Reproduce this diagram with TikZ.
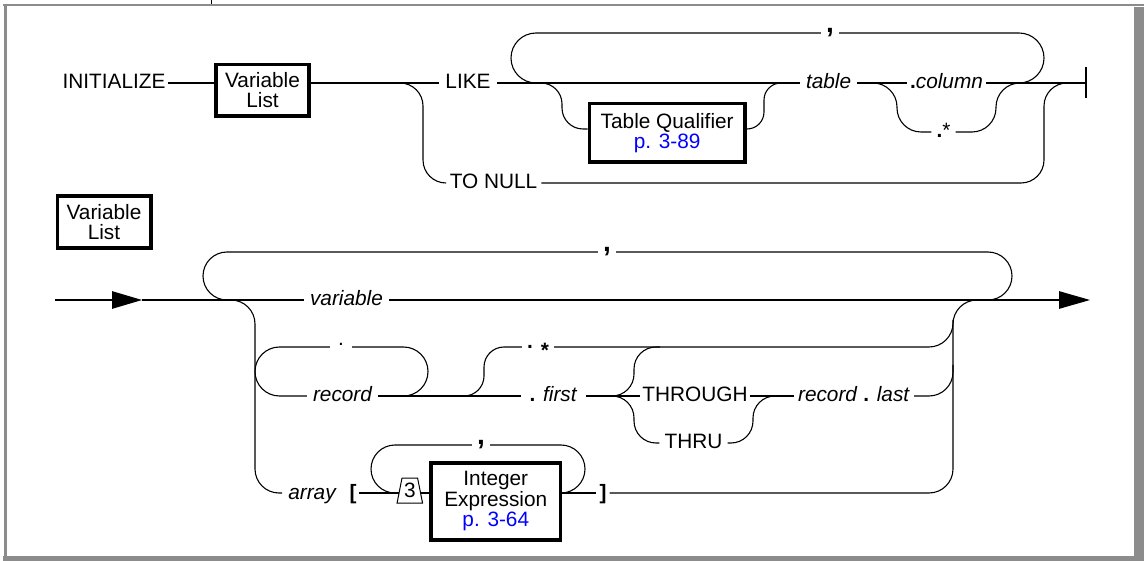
\documentclass[tikz,border=0pt]{standalone}
\usepackage{fontspec}
\setmainfont{Liberation Sans}
\usepackage{tikz}
\usetikzlibrary{arrows.meta,shapes.geometric}
\definecolor{framegray}{gray}{0.55}
\definecolor{linkblue}{RGB}{0,0,255}
\newcommand\rrfont{\fontsize{20.8}{20.5}\selectfont}
\newcommand\sepc{\smash{\fontsize{28}{28}\selectfont\bfseries,}}
\tikzset{
  track/.style={line width=1.1pt, rounded corners=23pt},
  word/.style={font=\rrfont, text height=15pt, text depth=3pt, inner xsep=6pt, inner ysep=1pt},
  varword/.style={word, font=\rrfont\itshape},
  refbox/.style={draw, line width=3.6pt, font=\rrfont, align=center, inner sep=0pt},
  sepnode/.style={inner xsep=5pt, inner ysep=2pt}
}
\begin{document}
\begin{tikzpicture}[x=1pt,y=-1pt]
\useasboundingbox (0,0) rectangle (1144,561);
% frame
\fill[framegray] (3,4) rectangle (1144,6.5);
\fill[framegray] (3.5,4) rectangle (6.5,561);
\fill[framegray] (1134,7) rectangle (1144,561);
\fill[framegray] (3,556) rectangle (1144,561);
\draw[line width=1pt] (211,0) -- (211,4);
% INITIALIZE statement
\node[word, inner xsep=2pt] (init) at (114,83) {INITIALIZE};
\node[refbox, minimum width=93.4pt, minimum height=51.7pt] (vlA) at (262.5,90.3) {Variable\\List};
\node[word] (like) at (468,83) {LIKE};
\node[word, inner xsep=4pt] (tonull) at (493.5,183) {TO NULL};
\node[refbox, minimum width=155.4pt, minimum height=58.7pt] (tq) at (667.2,132.9) {Table Qualifier\\\textcolor{linkblue}{p. 3-89}};
\node[varword] (tbl) at (828.6,83) {table};
\node[word, inner xsep=3pt] (col) at (946.5,83) {\textbf{.}\textit{column}};
\node[word, inner xsep=5pt] (dst) at (943.5,132) {\textbf{.}*};
\node[sepnode] (cmA) at (830,33) {\sepc};
\coordinate (jA) at (400,83);
\coordinate (tqrow) at (0,129);
\coordinate (endbar) at (1086,83);
\draw[track] (init) -- (vlA.west |- init);
\draw[track] (vlA.east |- like) -- (like);
\draw[track] (jA) -- (423,83) -- (423,183) -- (tonull);
\draw[track] (tonull) -- (1044,183) -- (1044,83) -- (endbar);
\draw[track] (like) -- (tbl);
\draw[track, rounded corners=25pt] (538,83) -- (511,83) -- (511,33) -- (cmA);
\draw[track, rounded corners=25pt] (cmA) -- (1044,33) -- (1044,83) -- (1010,83);
\draw[track, rounded corners=21pt] (538,83) -- (562,83) -- (562,129) -- (tq.west |- tqrow);
\draw[track, rounded corners=17pt] (tq.east |- tqrow) -- (764,129) -- (764,83) -- (790,83);
\draw[track] (tbl) -- (col);
\draw[track] (col) -- (endbar);
\draw[track, rounded corners=24pt] (870,83) -- (897,83) -- (897,132) -- (dst);
\draw[track, rounded corners=24pt] (dst) -- (996,132) -- (996,83) -- (1025,83);
\draw[line width=1.1pt] (1086,67) -- (1086,98);
% Variable List
\node[refbox, minimum width=93.4pt, minimum height=52.4pt] (vlB) at (104,222) {Variable\\List};
\coordinate (in) at (55,300);
\coordinate (tipA) at (142,300);
\coordinate (out) at (1090,300);
\node[varword] (var) at (346.5,300) {variable};
\node[sepnode] (cmB) at (607,252) {\sepc};
\node[varword] (rec) at (342.5,396) {record};
\node[font=\rrfont, inner xsep=8pt, inner ysep=2pt] (rdot) at (341,347) {\smash{\raisebox{1pt}{.}}};
\node[word, inner xsep=8pt] (fst) at (553.5,396) {\textbf{.} \textit{first}};
\node[word, inner xsep=5pt] (dsB) at (538,347) {\raisebox{4.5pt}{\textbf{.}}\hspace{8pt}\raisebox{-4.5pt}{\textbf{*}}};
\node[word, inner xsep=2pt] (thr) at (695,396) {THROUGH};
\node[word, inner xsep=5pt] (thru) at (693.5,443) {THRU};
\node[word, inner xsep=4pt] (rl) at (854,396) {\textit{record} \textbf{.} \textit{last}};
\node[varword] (arr) at (312,493) {array};
\node[word, font=\rrfont\bfseries, inner xsep=2pt] (lbk) at (353,493) {[};
\node[draw, trapezium, trapezium angle=76, trapezium stretches=true, minimum width=25.5pt, minimum height=25pt, inner sep=0pt, line width=1pt, font=\rrfont] (tri) at (409.8,490.5) {3};
\node[refbox, minimum width=129.4pt, minimum height=77.1pt] (ie) at (495.8,501.3) {Integer\\Expression\\\textcolor{linkblue}{p. 3-64}};
\node[word, font=\rrfont\bfseries, inner xsep=3pt] (rbk) at (603,493) {]};
\node[sepnode] (cmC) at (481,445) {\sepc};
\draw[track, -{Triangle[length=30pt,width=17.5pt]}] (in) -- (tipA);
\draw[track] (tipA) -- (var);
\draw[track, -{Triangle[length=31pt,width=17.5pt]}] (var) -- (out);
\draw[track, rounded corners=24pt] (231,300) -- (203,300) -- (203,252) -- (cmB);
\draw[track, rounded corners=24pt] (cmB) -- (1012,252) -- (1012,300) -- (980,300);
\draw[track, rounded corners=24pt] (225,300) -- (255,300) -- (255,493) -- (arr);
\draw[track, rounded corners=24.5pt] (rdot) -- (255,347) -- (255,396) -- (rec);
\draw[track, rounded corners=24.5pt] (rdot) -- (428,347) -- (428,396) -- (403,396);
\draw[track] (rec) -- (fst);
\draw[track, rounded corners=20pt] (462,396) -- (484,396) -- (484,347) -- (dsB);
\draw[track, rounded corners=24pt] (dsB) -- (953,347) -- (953,320);
\draw[track] (fst) -- (thr);
\draw[track, rounded corners=22pt] (608,396) -- (634,396) -- (634,347) -- (660,347);
\draw[track, rounded corners=22pt] (608,396) -- (634,396) -- (634,443) -- (thru);
\draw[track, rounded corners=22pt] (thru) -- (753,443) -- (753,396) -- (rl);
\draw[track] (thr) -- (rl);
\draw[track, rounded corners=24pt] (rl) -- (953,396) -- (953,365);
\draw[track] (lbk) -- (lbk -| tri.west);
\draw[track] (tri.east |- lbk) -- (ie.west |- lbk);
\draw[track] (ie.east |- lbk) -- (rbk);
\draw[track, rounded corners=24pt] (rbk) -- (953,493) -- (953,300) -- (985,300);
\draw[track, rounded corners=24pt] (cmC) -- (371,445) -- (371,493) -- (tri.west |- lbk);
\draw[track, rounded corners=24pt] (cmC) -- (585,445) -- (585,493) -- (ie.east |- lbk);
\end{tikzpicture}
\end{document}
